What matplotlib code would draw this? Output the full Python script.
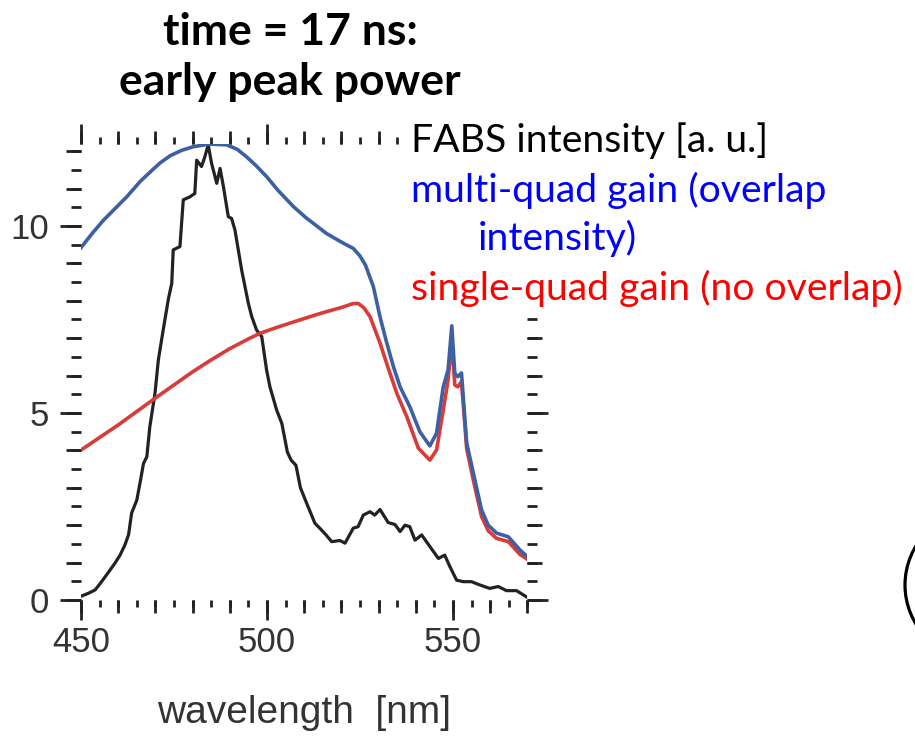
import numpy as np
import matplotlib
matplotlib.use("Agg")
import matplotlib.pyplot as plt
from matplotlib.ticker import MultipleLocator, FixedLocator, NullFormatter
from matplotlib.patches import Rectangle, Ellipse

plt.rcParams['font.family'] = ['Liberation Sans', 'DejaVu Sans']

# FABS spectrum (black)
wl_fabs = [450.0, 452.0, 453.8, 455.0, 456.5, 459.1, 460.5, 461.8, 462.8, 463.6,
           465.0, 466.0, 466.8, 467.7, 468.5, 469.9, 470.8, 472.1, 473.5, 474.4,
           474.8, 476.6, 477.5, 479.3, 480.6, 481.1, 482.4, 483.3, 484.2, 485.1,
           486.5, 487.4, 488.3, 489.6, 490.5, 491.4, 493.2, 495.0, 495.9, 497.2,
           498.6, 499.9, 500.8, 502.6, 504.0, 505.5, 506.5, 507.8, 509.0, 510.5,
           512.9, 514.2, 515.8, 517.4, 519.6, 521.0, 523.2, 524.5, 525.9, 527.7,
           529.0, 530.4, 532.6, 534.4, 535.8, 537.1, 538.4, 539.8, 541.6, 543.8,
           546.1, 547.8, 549.2, 551.0, 552.8, 555.0, 557.3, 559.9, 562.2, 564.4,
           567.1, 570.0]
fabs = [0.10, 0.18, 0.27, 0.42, 0.62, 0.98, 1.20, 1.47, 1.75, 2.32,
        2.67, 3.20, 3.65, 3.83, 4.63, 5.53, 6.42, 7.22, 8.05, 8.47,
        9.36, 9.45, 10.70, 10.78, 10.87, 11.76, 11.59, 11.85, 12.17, 11.68,
        11.14, 11.54, 11.05, 10.25, 10.20, 9.89, 8.82, 7.93, 7.58, 7.22,
        7.04, 6.15, 5.70, 5.08, 4.72, 3.95, 3.74, 3.60, 3.00, 2.63,
        2.05, 1.92, 1.75, 1.56, 1.59, 1.52, 1.92, 1.96, 2.27, 2.36,
        2.27, 2.42, 2.07, 2.02, 1.83, 2.00, 1.96, 1.60, 1.74, 1.43,
        1.11, 1.20, 0.89, 0.53, 0.49, 0.49, 0.40, 0.31, 0.36, 0.25,
        0.25, 0.07]

# multi-quad gain (blue)
wl_multi = [450.0, 453.0, 456.0, 459.0, 462.3, 466.0, 469.0, 471.2, 474.0, 477.0,
            480.2, 484.5, 489.2, 492.0, 494.5, 497.0, 499.9, 503.0, 507.1, 510.5,
            513.0, 516.0, 520.0, 523.2, 525.0, 526.5, 528.6, 530.4, 532.0, 534.0,
            535.8, 538.4, 541.1, 543.8, 545.6, 547.4, 548.7, 549.7, 550.5, 551.3,
            552.3, 553.7, 555.5, 557.7, 559.5, 561.7, 564.9, 568.0, 570.0]
multi = [9.42, 9.80, 10.15, 10.45, 10.78, 11.20, 11.48, 11.68, 11.88, 12.02,
         12.12, 12.19, 12.17, 12.05, 11.85, 11.62, 11.32, 10.95, 10.52, 10.22,
         10.03, 9.80, 9.57, 9.40, 9.20, 8.95, 8.38, 7.57, 6.95, 6.24,
         5.70, 5.17, 4.50, 4.12, 4.46, 5.70, 6.15, 7.33, 6.06, 5.97,
         6.07, 4.20, 3.39, 2.41, 2.00, 1.79, 1.69, 1.34, 1.16]

# single-quad gain (red)
wl_single = [450.0, 460.0, 470.0, 480.0, 485.0, 490.0, 495.0, 498.1, 503.0, 508.9,
             513.0, 516.0, 520.0, 523.0, 524.5, 526.0, 527.7, 530.4, 532.6, 534.9,
             537.6, 540.7, 543.8, 545.6, 547.4, 548.7, 549.7, 550.5, 551.3, 552.3,
             553.7, 555.5, 557.7, 559.5, 561.7, 564.9, 568.0, 570.0]
single = [4.01, 4.68, 5.40, 6.10, 6.42, 6.72, 6.98, 7.13, 7.30, 7.49,
          7.62, 7.71, 7.82, 7.92, 7.93, 7.82, 7.58, 6.87, 6.20, 5.53,
          4.90, 4.06, 3.74, 4.01, 5.08, 5.88, 6.95, 5.75, 5.70, 5.84,
          4.05, 3.20, 2.23, 1.85, 1.65, 1.56, 1.22, 1.09]

x_major = [450, 500, 550]
y_major = [0, 5, 10]

fig = plt.figure(figsize=(9.15, 7.37), dpi=100)
ax = fig.add_axes([81 / 915, 137 / 737, 446.3 / 915, 456.3 / 737])

ax.plot(wl_fabs, fabs, color='#222222', lw=2.3, zorder=2)
ax.plot(wl_single, single, color='#d93a3a', lw=2.6, zorder=3)
ax.plot(wl_multi, multi, color='#3d5fa3', lw=2.6, zorder=4)

ax.set_xlim(450, 570)
ax.set_ylim(0, 12.2)
for s in ax.spines.values():
    s.set_visible(False)

tick_col = '#222222'
ax.xaxis.set_major_locator(FixedLocator(x_major))
ax.xaxis.set_minor_locator(MultipleLocator(5))
ax.yaxis.set_major_locator(FixedLocator(y_major))
ax.yaxis.set_minor_locator(MultipleLocator(0.5))
ax.tick_params(which='both', direction='out', width=2, color=tick_col,
               top=True, right=True, labelsize=25, labelcolor='#333333')
ax.tick_params(axis='x', which='major', length=14.5, pad=4)
ax.tick_params(axis='x', which='minor', length=5)
ax.tick_params(axis='y', which='major', length=15, pad=8)
ax.tick_params(axis='y', which='minor', length=7.5)

# medium ticks at every 10 nm / every unit
for loc in ('bottom', 'top'):
    sec = ax.secondary_xaxis(loc)
    sec.xaxis.set_major_locator(FixedLocator(np.arange(450, 571, 10)))
    sec.xaxis.set_major_formatter(NullFormatter())
    sec.tick_params(direction='out', length=9.5, width=2, color=tick_col)
    for s in sec.spines.values():
        s.set_visible(False)
for loc in ('left', 'right'):
    sec = ax.secondary_yaxis(loc)
    sec.yaxis.set_major_locator(FixedLocator(np.arange(0, 13, 1)))
    sec.yaxis.set_major_formatter(NullFormatter())
    sec.tick_params(direction='out', length=11, width=2, color=tick_col)
    for s in sec.spines.values():
        s.set_visible(False)

ax.set_xlabel("wavelength  [nm]", fontsize=28, color='#333333', labelpad=26)

# text block with white background over the upper right corner
fig.add_artist(Rectangle((405 / 915, (737 - 316) / 737), 510 / 915, 198 / 737,
                         transform=fig.transFigure, facecolor='white',
                         edgecolor='none', zorder=3))
leg_font = dict(family=['Lato', 'DejaVu Sans'], fontsize=28.2, va='baseline', zorder=4)
fig.text(411 / 915, 1 - 152 / 737, "FABS intensity [a. u.]", color='black', **leg_font)
fig.text(411 / 915, 1 - 202 / 737, "multi-quad gain (overlap", color='#0000ff', **leg_font)
fig.text(478 / 915, 1 - 250 / 737, "intensity)", color='#0000ff', **leg_font)
fig.text(411 / 915, 1 - 300 / 737, "single-quad gain (no overlap)", color='#ff0000', **leg_font)

title_font = dict(family=['Lato', 'DejaVu Sans'], fontsize=32, weight='bold',
                  ha='center', va='baseline', color='black')
fig.text(290 / 915, 1 - 45 / 737, "time = 17 ns:", **title_font)
fig.text(290 / 915, 1 - 95 / 737, "early peak power", **title_font)

fig.add_artist(Ellipse((980 / 915, 1 - 585 / 737), 150 / 915, 150 / 737,
                       transform=fig.transFigure, fill=False,
                       edgecolor='black', lw=2.3))

fig.savefig("out.png", dpi=100)
